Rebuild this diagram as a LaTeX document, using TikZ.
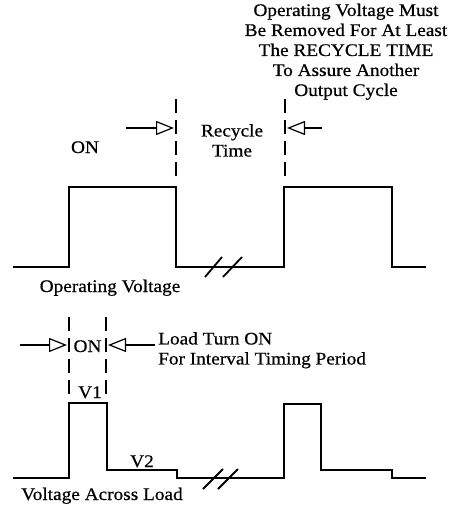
\documentclass[tikz,border=0pt]{standalone}
\usepackage{fontspec}
\setmainfont{Liberation Serif}[FakeStretch=1.09, FakeBold=0.6]
\usetikzlibrary{positioning, arrows.meta}

\begin{document}
\begin{tikzpicture}[
    x=1pt, y=-1pt,
    every node/.style={font=\fontsize{17.7}{20}\selectfont, inner sep=0pt},
    wave/.style={line width=2pt},
    marker/.style={line width=2pt, dash pattern=on 14pt off 7pt},
    pointer/.style={line width=1.6pt, -{Triangle[open, length=18pt, width=14pt, line width=1.2pt]}},
    breakmark/.style={line width=1.8pt}
]
\useasboundingbox (0,0) rectangle (456,506);

% operating voltage
\draw[wave] (13,267) -- (69,267) -- (69,187) -- (176,187) -- (176,267) -- (284,267)
    -- (284,187) -- (392,187) -- (392,267) -- (426,267);
\draw[breakmark] (205,277) -- (222,257);
\draw[breakmark] (223,277) -- (242,257);

\coordinate (offedge) at (176,99);
\coordinate (onedge) at (285,99);
\draw[marker] (offedge) -- ++(0,78);
\draw[marker] (onedge) -- ++(0,78);
\coordinate (leftfrom) at (126,128);
\coordinate (leftto) at (174,128);
\coordinate (rightfrom) at (322,128);
\coordinate (rightto) at (287,128);
\draw[pointer] (leftfrom) -- (leftto);
\draw[pointer] (rightfrom) -- (rightto);

\node[anchor=north, align=center] (note) at (346,3.5)
    {Operating Voltage Must\\Be Removed For At Least\\The RECYCLE TIME\\To Assure Another\\Output Cycle};
\node[anchor=base] (ontop) at (85,153) {ON};
\node[anchor=north, align=center] (recycle) at (232,124) {Recycle\\Time};
\node[anchor=base] (opvolt) at (110,292) {Operating Voltage};

% voltage across load
\draw[wave] (13,478) -- (69,478) -- (69,403) -- (107,403) -- (107,470) -- (177,470)
    -- (177,478) -- (284,478) -- (284,404) -- (321,404) -- (321,470) -- (392,470)
    -- (392,478) -- (426,478);
\draw[breakmark] (203,489) -- (223,469);
\draw[breakmark] (218,489) -- (238,469);

\coordinate (loadon) at (69,317);
\coordinate (loadoff) at (106,317);
\draw[marker] (loadon) -- ++(0,77);
\draw[marker] (loadoff) -- ++(0,77);
\coordinate (lowfrom) at (20,345);
\coordinate (lowto) at (67,345);
\coordinate (highfrom) at (155,345);
\coordinate (highto) at (108,345);
\draw[pointer] (lowfrom) -- (lowto);
\draw[pointer] (highfrom) -- (highto);

\node[anchor=base] (onbottom) at (87.5,352) {ON};
\node[anchor=north west, align=left] (turnon) at (158,332)
    {Load Turn ON\\For Interval Timing Period};
\node[anchor=base] (vone) at (90,398) {V1};
\node[anchor=base] (vtwo) at (142,467) {V2};
\node[anchor=base] (across) at (102,500) {Voltage Across Load};
\end{tikzpicture}
\end{document}
